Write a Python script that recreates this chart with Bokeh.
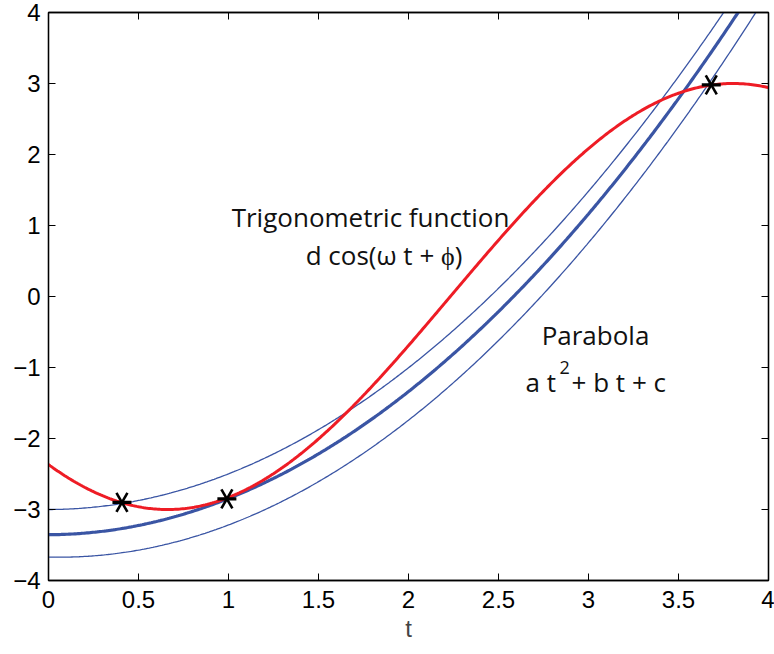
import numpy as np
from bokeh.plotting import figure
from bokeh.models import LinearAxis, Label, Range1d, FixedTicker, CustomJSTickFormatter
from bokeh.embed import file_html
from bokeh.resources import INLINE

# ---- data ----
x_ticks = [0, 0.5, 1, 1.5, 2, 2.5, 3, 3.5, 4]
y_ticks = [-4, -3, -2, -1, 0, 1, 2, 3, 4]

# trigonometric function  d cos(w t + phi)
trig_d = 3.0
trig_omega = 1.0
trig_phi = 2.48

# parabolas a t^2 + b t + c  (upper band, fit, lower band)
par_a = [0.496, 0.498, 0.512]
par_b = [0.006, 0.012, -0.060]
par_c = [-3.00, -3.355, -3.67]
par_width = [1.3, 3.2, 1.3]

# sample points (stars)
pts_t = [0.408, 0.991, 3.682]
pts_y = [-2.90, -2.85, 2.98]

t = np.linspace(0, 4, 401)

p = figure(width=774, height=654, output_backend="svg", toolbar_location=None,
           x_range=Range1d(0, 4), y_range=Range1d(-4, 4),
           min_border_left=48, min_border_right=6, min_border_top=12, min_border_bottom=74,
           background_fill_color="white", border_fill_color="white")
p.xgrid.visible = False
p.ygrid.visible = False
p.outline_line_color = "black"
p.outline_line_width = 1.3

fmt = CustomJSTickFormatter(code="return tick.toString().replace('-', '\\u2212');")
tick_font = "Liberation Sans"
for ax in [p.xaxis[0], p.yaxis[0]]:
    ax.formatter = fmt
    ax.major_tick_in = 7
    ax.major_tick_out = 0
    ax.minor_tick_line_color = None
    ax.major_label_text_font = tick_font
    ax.major_label_text_font_size = "24px"
    ax.major_label_text_color = "black"
    ax.axis_line_color = "black"
    ax.axis_line_width = 1.3
    ax.major_tick_line_color = "black"
p.xaxis.ticker = FixedTicker(ticks=x_ticks)
p.yaxis.ticker = FixedTicker(ticks=y_ticks)
p.xaxis.major_label_standoff = 10
p.yaxis.major_label_standoff = 8
p.xaxis.axis_label = "t"
p.xaxis.axis_label_text_font = tick_font
p.xaxis.axis_label_text_font_size = "24px"
p.xaxis.axis_label_text_font_style = "normal"
p.xaxis.axis_label_standoff = 4

# box axes on the top and right with inward ticks
for loc, ticks in [("above", x_ticks), ("right", y_ticks)]:
    ax = LinearAxis(ticker=FixedTicker(ticks=ticks), major_tick_in=7, major_tick_out=0,
                    minor_tick_line_color=None, major_label_text_font_size="0px",
                    major_label_standoff=0, axis_line_color="black", axis_line_width=1.3)
    p.add_layout(ax, loc)

# curves
blue = "#3a55a4"
for a, b, c, w in zip(par_a, par_b, par_c, par_width):
    p.line(t, a * t**2 + b * t + c, line_color=blue, line_width=w)

p.line(t, trig_d * np.cos(trig_omega * t + trig_phi), line_color="#ee1c25", line_width=3)

# six-armed star markers: one horizontal bar and two steep diagonals
p.scatter(pts_t, pts_y, marker="dash", size=19, line_color="black", line_width=3.2)
for ang in (np.pi / 3, -np.pi / 3):
    p.scatter(pts_t, pts_y, marker="dash", angle=ang, size=22, line_color="black", line_width=2.6)

txt_font = "Open Sans"
def lab(x, y, s, size="26px", align="left"):
    p.add_layout(Label(x=x, y=y, text=s, text_font=txt_font, text_font_size=size,
                       text_align=align, text_baseline="alphabetic", text_color="#111111"))

lab(1.789, 1.113, "Trigonometric function", align="center")
lab(1.864, 0.59, "d cos(\u03c9 t + \u03d5)", align="center")
lab(3.039, -0.549, "Parabola", align="center")
lab(2.65, -1.211, "a t")
lab(2.839, -1.0, "2", size="18px")
lab(2.906, -1.211, "+ b t + c")

open("out.html", "w").write(file_html(p, INLINE))
